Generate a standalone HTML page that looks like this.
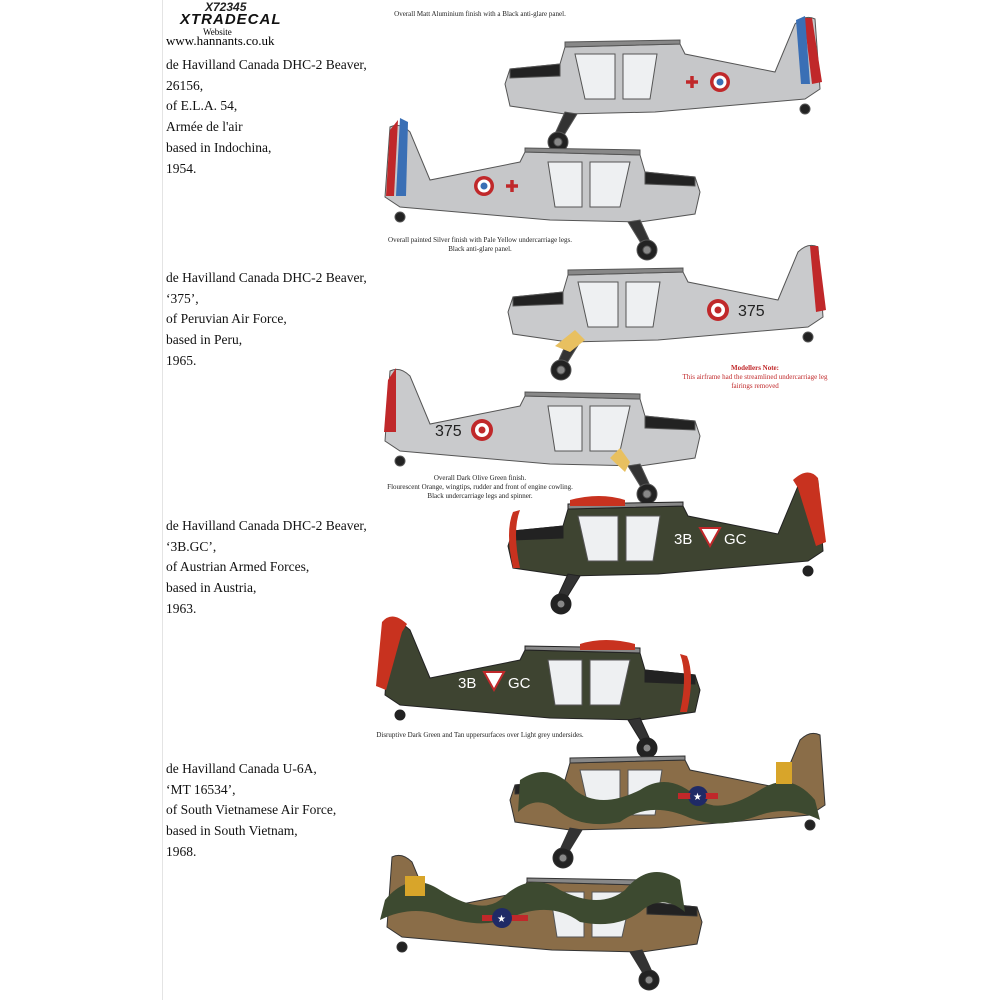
<!DOCTYPE html>
<html><head><meta charset="utf-8"><style>
body{margin:0;width:1000px;height:1000px;background:#fff;position:relative;overflow:hidden;font-family:"Liberation Serif",serif}
.t{position:absolute;left:166px;font-size:13.5px;line-height:20.7px;color:#111}
.c{position:absolute;font-size:7px;line-height:9px;text-align:center;color:#222}
svg{position:absolute;left:0;top:0}
</style></head><body>
<div style="position:absolute;left:162px;top:0;width:1px;height:1000px;background:#e4e4e4"></div>
<div style="position:absolute;left:205px;top:0px;font:bold italic 12px 'Liberation Sans',sans-serif;color:#222">X72345</div>
<div style="position:absolute;left:180px;top:11px;font:900 italic 15px 'Liberation Sans',sans-serif;color:#111;letter-spacing:1px">XTRADECAL</div>
<div style="position:absolute;left:203px;top:27px;font-size:9px">Website</div>
<div style="position:absolute;left:166px;top:33px;font-size:13px">www.hannants.co.uk</div>
<div class="t" style="top:55px">de Havilland Canada DHC-2 Beaver,<br>26156,<br>of E.L.A. 54,<br>Armée de l'air<br>based in Indochina,<br>1954.</div>
<div class="t" style="top:268px">de Havilland Canada DHC-2 Beaver,<br>‘375’,<br>of Peruvian Air Force,<br>based in Peru,<br>1965.</div>
<div class="t" style="top:516px">de Havilland Canada DHC-2 Beaver,<br>‘3B.GC’,<br>of Austrian Armed Forces,<br>based in Austria,<br>1963.</div>
<div class="t" style="top:759px">de Havilland Canada U-6A,<br>‘MT 16534’,<br>of South Vietnamese Air Force,<br>based in South Vietnam,<br>1968.</div>
<div class="c" style="left:360px;top:10px;width:240px">Overall Matt Aluminium finish with a Black anti-glare panel.</div>
<div class="c" style="left:350px;top:236px;width:260px">Overall painted Silver finish with Pale Yellow undercarriage legs.<br>Black anti-glare panel.</div>
<div class="c" style="left:340px;top:474px;width:280px">Overall Dark Olive Green finish.<br>Flourescent Orange, wingtips, rudder and front of engine cowling.<br>Black undercarriage legs and spinner.</div>
<div class="c" style="left:340px;top:731px;width:280px">Disruptive Dark Green and Tan uppersurfaces over Light grey undersides.</div>
<div class="c" style="left:650px;top:364px;width:210px;color:#c0282a"><b>Modellers Note:</b><br>This airframe had the streamlined undercarriage leg<br>fairings removed</div>
<svg width="1000" height="1000" viewBox="0 0 1000 1000">
<defs>
<g id="pl">
<path d="M0,70 L5,55 L55,50 L60,33 L175,30 L180,40 L270,58 L290,10 Q300,0 310,5 L315,75 L300,85 L150,98 L60,100 L5,92 Z"/>
<path d="M60,98 L48,124 L56,126 L72,100 Z" fill="#333"/>
<circle cx="53" cy="128" r="10" fill="#222"/><circle cx="53" cy="128" r="4" fill="#888"/>
<circle cx="300" cy="95" r="5" fill="#222"/>
<path d="M70,40 L80,85 L110,85 L110,40 Z M118,40 L118,85 L145,85 L152,40 Z" fill="#eef0f2" stroke="#555" stroke-width="1"/>
<path d="M5,55 L55,50 L55,62 L5,64 Z" fill="#222"/>
<path d="M60,33 L175,30 L175,26 L60,28 Z" fill="#888"/>
</g>
</defs>
<g fill="#c6c7c9" stroke="#555" stroke-width="1"><use href="#pl" transform="translate(505,14)"/></g>
<path d="M804,18 L812,18 L822,82 L812,84 Z" fill="#c0282a"/><path d="M796,20 L805,16 L810,84 L801,84 Z" fill="#3a6fb5"/>
<circle cx="720" cy="82" r="10" fill="#c0282a"/><circle cx="720" cy="82" r="6.5" fill="#fff"/><circle cx="720" cy="82" r="3.5" fill="#3a6fb5"/>
<path d="M686,82 h12 M692,76 v12" stroke="#c0282a" stroke-width="3.5"/>
<g fill="#c6c7c9" stroke="#555" stroke-width="1"><use href="#pl" transform="translate(700,122) scale(-1,1)"/></g>
<path d="M398,120 L390,130 L386,196 L394,196 Z" fill="#c0282a"/><path d="M400,118 L408,122 L406,196 L396,196 Z" fill="#3a6fb5"/>
<circle cx="484" cy="186" r="10" fill="#c0282a"/><circle cx="484" cy="186" r="6.5" fill="#fff"/><circle cx="484" cy="186" r="3.5" fill="#3a6fb5"/>
<path d="M506,186 h12 M512,180 v12" stroke="#c0282a" stroke-width="3.5"/>
<g fill="#c9cacc" stroke="#555" stroke-width="1"><use href="#pl" transform="translate(508,242)"/></g>
<path d="M810,246 L818,246 L826,310 L816,312 Z" fill="#c0282a"/>
<path d="M555,346 L575,330 L585,340 L570,352 Z" fill="#e8c060"/>
<circle cx="718" cy="310" r="11" fill="#c0282a"/><circle cx="718" cy="310" r="7" fill="#fff"/><circle cx="718" cy="310" r="3.5" fill="#c0282a"/>
<text x="738" y="316" font-family="Liberation Sans,sans-serif" font-size="16" fill="#222">375</text>
<g fill="#c9cacc" stroke="#555" stroke-width="1"><use href="#pl" transform="translate(700,366) scale(-1,1)"/></g>
<path d="M396,368 L388,380 L384,432 L396,432 Z" fill="#c0282a"/>
<path d="M630,462 L620,448 L610,458 L625,472 Z" fill="#e8c060"/>
<circle cx="482" cy="430" r="11" fill="#c0282a"/><circle cx="482" cy="430" r="7" fill="#fff"/><circle cx="482" cy="430" r="3.5" fill="#c0282a"/>
<text x="435" y="436" font-family="Liberation Sans,sans-serif" font-size="16" fill="#222">375</text>
<g fill="#3e4431" stroke="#222" stroke-width="1"><use href="#pl" transform="translate(508,476)"/></g>
<path d="M793,480 Q808,466 818,478 L826,542 L816,546 L798,488 Z" fill="#c8321f"/>
<path d="M513,512 Q505,531 513,568 L520,568 Q512,531 520,510 Z" fill="#c8321f"/>
<path d="M570,500 Q600,492 625,500 L625,506 L570,506 Z" fill="#c8321f"/>
<text x="674" y="544" font-family="Liberation Sans,sans-serif" font-size="15" fill="#fff">3B</text>
<path d="M700,528 L720,528 L710,546 Z" fill="#fff" stroke="#c0282a" stroke-width="2"/>
<text x="724" y="544" font-family="Liberation Sans,sans-serif" font-size="15" fill="#fff">GC</text>
<g fill="#3e4431" stroke="#222" stroke-width="1"><use href="#pl" transform="translate(700,620) scale(-1,1)"/></g>
<path d="M407,624 Q392,610 382,622 L376,686 L386,690 L402,632 Z" fill="#c8321f"/>
<path d="M687,656 Q695,675 687,712 L680,712 Q688,675 680,654 Z" fill="#c8321f"/>
<path d="M580,644 Q605,636 635,644 L635,650 L580,650 Z" fill="#c8321f"/>
<text x="458" y="688" font-family="Liberation Sans,sans-serif" font-size="15" fill="#fff">3B</text>
<path d="M484,672 L504,672 L494,690 Z" fill="#fff" stroke="#c0282a" stroke-width="2"/>
<text x="508" y="688" font-family="Liberation Sans,sans-serif" font-size="15" fill="#fff">GC</text>
<g fill="#8a6d48" stroke="#333" stroke-width="1"><use href="#pl" transform="translate(510,730)"/></g>
<path d="M520,780 Q550,760 575,790 Q600,810 640,790 Q670,770 700,800 Q720,815 760,790 Q790,770 815,800 L820,820 Q790,805 760,815 Q720,830 690,818 Q650,800 620,822 Q580,830 555,808 Q535,795 518,812 Z" fill="#3d4a30"/>
<circle cx="698" cy="796" r="10" fill="#1f2a66"/><path d="M678,793 h40 v6 h-40 Z" fill="#c0282a"/><circle cx="698" cy="796" r="8" fill="#1f2a66"/><text x="693" y="800" font-size="10" fill="#fff">★</text>
<rect x="776" y="762" width="16" height="22" fill="#d8a52a"/>
<g fill="#8a6d48" stroke="#333" stroke-width="1"><use href="#pl" transform="translate(702,852) scale(-1,1)"/></g>
<path d="M680,880 Q650,860 625,890 Q600,910 560,890 Q530,870 500,900 Q480,915 440,890 Q410,870 385,900 L380,920 Q410,905 440,915 Q480,930 510,918 Q550,900 580,922 Q620,930 645,908 Q665,895 685,912 Z" fill="#3d4a30"/>
<path d="M482,915 h46 v6 h-46 Z" fill="#c0282a"/><circle cx="502" cy="918" r="10" fill="#1f2a66"/><text x="497" y="922" font-size="10" fill="#fff">★</text>
<rect x="405" y="876" width="20" height="20" fill="#d8a52a"/>
</svg>
</body></html>
